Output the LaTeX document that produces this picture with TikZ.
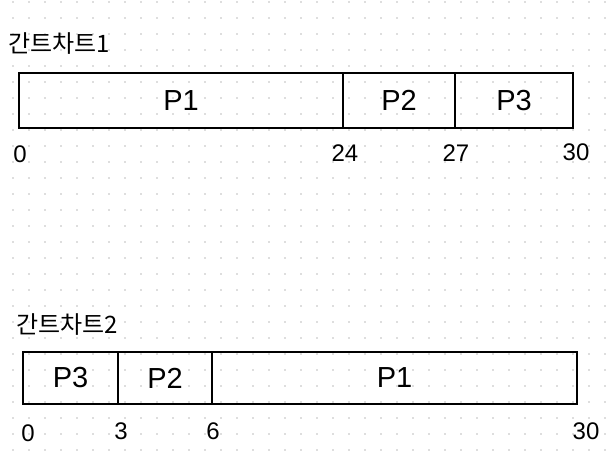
\documentclass[tikz,border=0pt]{standalone}
\usepackage{fontspec}
\setmainfont{Liberation Sans}
\newfontfamily\kr{Noto Sans CJK KR}
\begin{document}
\begin{tikzpicture}[x=1pt,y=-1pt,
  seg/.style={draw=black,line width=1.8pt,inner sep=0pt,font=\fontsize{29}{29}\selectfont},
  num/.style={inner sep=0pt,font=\fontsize{24}{24}\selectfont},
  ttl/.style={inner sep=0pt,anchor=west,font=\kr\fontsize{24}{24}\selectfont}]
\useasboundingbox (0,0) rectangle (611,451);
\fill[white] (0,0) rectangle (611,451);
\foreach \x in {13,29,...,605}
  \foreach \y in {2,18,...,450}
    \fill[black!13] (\x-0.8,\y-0.8) rectangle ++(1.6,1.6);
% chart 1
\node[ttl] (t1) at (8,44) {간트차트1};
\node[seg,minimum width=324pt,minimum height=55pt] (a1) at (181,100.5) {P1};
\node[seg,minimum width=112pt,minimum height=55pt] (a2) at (399,100.5) {P2};
\node[seg,minimum width=118pt,minimum height=55pt] (a3) at (514,100.5) {P3};
\node[num] (n10) at (20,154) {0};
\node[num] (n124) at (345,153) {24};
\node[num] (n127) at (456,153) {27};
\node[num] (n130) at (576,152) {30};
% chart 2
\node[ttl] (t2) at (16,325) {간트차트2};
\node[seg,minimum width=95pt,minimum height=52pt] (b3) at (70.5,378) {P3};
\node[seg,minimum width=94pt,minimum height=52pt] (b2) at (165,378) {P2};
\node[seg,minimum width=365pt,minimum height=52pt] (b1) at (394.5,378) {P1};
\node[num] (n20) at (28,433) {0};
\node[num] (n23) at (121,431) {3};
\node[num] (n26) at (213,431) {6};
\node[num] (n230) at (586,431) {30};
\end{tikzpicture}
\end{document}
